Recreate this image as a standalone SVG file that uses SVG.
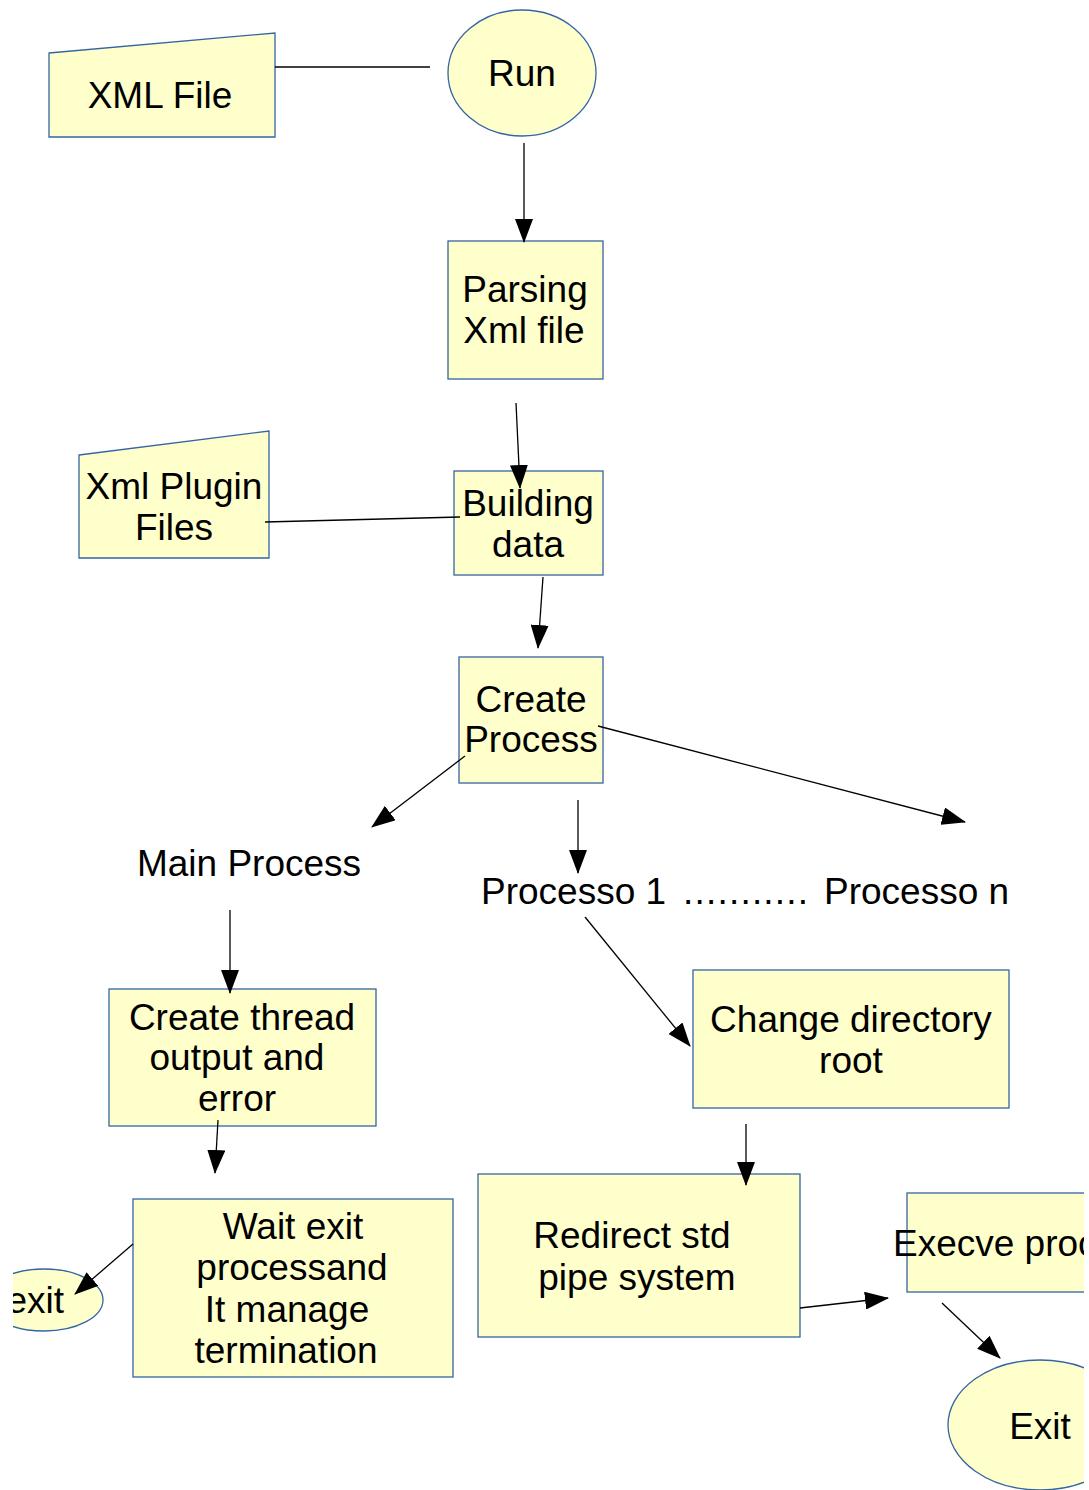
<svg xmlns="http://www.w3.org/2000/svg" width="1089" height="1490" viewBox="0 0 1089 1490">
<style>
.n{fill:#ffffcc;stroke:#3465a4;stroke-width:1.3}
.t{font-family:"Liberation Sans",Arial,sans-serif;font-size:37px;fill:#000;text-anchor:middle}
.c line{stroke:#000;stroke-width:1.3}
</style>
<defs>
<marker id="ah" markerUnits="userSpaceOnUse" markerWidth="24" markerHeight="18" viewBox="0 0 24 18" refX="23" refY="9" orient="auto">
<path d="M0,0 L24,9 L0,18 Z" fill="#000"/>
</marker>
<clipPath id="cl"><rect x="13" y="0" width="1071" height="1490"/></clipPath>
</defs>
<rect width="1089" height="1490" fill="#fff"/>
<g clip-path="url(#cl)">
<g id="xmlfile"><polygon class="n" points="49,53 275,33 275,137 49,137"/><text class="t" x="160" y="108">XML File</text></g>
<g id="run"><ellipse class="n" cx="522" cy="73" rx="74" ry="63"/><text class="t" x="522" y="86">Run</text></g>
<g id="parsing"><rect class="n" x="448" y="241" width="155" height="138"/><text class="t" x="525" y="302">Parsing</text><text class="t" x="524" y="343">Xml file</text></g>
<g id="plugin"><polygon class="n" points="79,455 269,431 269,558 79,558"/><text class="t" x="174" y="499">Xml Plugin</text><text class="t" x="174" y="540">Files</text></g>
<g id="building"><rect class="n" x="454" y="471" width="149" height="104"/><text class="t" x="528" y="516">Building</text><text class="t" x="528" y="557">data</text></g>
<g id="create"><rect class="n" x="459" y="657" width="144" height="126"/><text class="t" x="531" y="712">Create</text><text class="t" x="531" y="752">Process</text></g>
<g id="main"><text class="t" x="249" y="876">Main Process</text></g>
<g id="processi"><text class="t" y="904" style="text-anchor:start"><tspan x="481">Processo 1 </tspan><tspan x="683" letter-spacing="1.2">...........</tspan><tspan x="824">Processo n</tspan></text></g>
<g id="thread"><rect class="n" x="109" y="989" width="267" height="137"/><text class="t" x="242" y="1030">Create thread</text><text class="t" x="237" y="1070">output and</text><text class="t" x="237" y="1111">error</text></g>
<g id="wait"><rect class="n" x="133" y="1199" width="320" height="178"/><text class="t" x="293" y="1239">Wait exit</text><text class="t" x="292" y="1280">processand</text><text class="t" x="287" y="1322">It manage</text><text class="t" x="286" y="1363">termination</text></g>
<g id="exit1"><ellipse class="n" cx="44" cy="1300" rx="59" ry="31"/><text class="t" x="64" y="1313" style="text-anchor:end">exit</text></g>
<g id="chdir"><rect class="n" x="693" y="970" width="316" height="138"/><text class="t" x="851" y="1032">Change directory</text><text class="t" x="851" y="1073">root</text></g>
<g id="redirect"><rect class="n" x="478" y="1174" width="322" height="163"/><text class="t" x="632" y="1248">Redirect std</text><text class="t" x="637" y="1290">pipe system</text></g>
<g id="execve"><rect class="n" x="907" y="1193" width="200" height="99"/><text class="t" x="893" y="1256" style="text-anchor:start">Execve proc</text></g>
<g id="exit2"><ellipse class="n" cx="1040" cy="1425" rx="92" ry="65"/><text class="t" x="1040" y="1439">Exit</text></g>
<g id="connectors" class="c">
<line x1="275" y1="67" x2="430" y2="67"/>
<line x1="524" y1="143" x2="524" y2="242" marker-end="url(#ah)"/>
<line x1="516" y1="403" x2="520" y2="488" marker-end="url(#ah)"/>
<line x1="265" y1="522" x2="460" y2="517"/>
<line x1="543" y1="577" x2="538" y2="648" marker-end="url(#ah)"/>
<line x1="465" y1="756" x2="372" y2="827" marker-end="url(#ah)"/>
<line x1="578" y1="800" x2="578" y2="873" marker-end="url(#ah)"/>
<line x1="598" y1="726" x2="965" y2="822" marker-end="url(#ah)"/>
<line x1="230" y1="910" x2="230" y2="993" marker-end="url(#ah)"/>
<line x1="218" y1="1120" x2="215" y2="1173" marker-end="url(#ah)"/>
<line x1="133" y1="1244" x2="75" y2="1294" marker-end="url(#ah)"/>
<line x1="585" y1="917" x2="690" y2="1046" marker-end="url(#ah)"/>
<line x1="746" y1="1124" x2="746" y2="1185" marker-end="url(#ah)"/>
<line x1="800" y1="1308" x2="888" y2="1298" marker-end="url(#ah)"/>
<line x1="942" y1="1303" x2="1000" y2="1358" marker-end="url(#ah)"/>
</g>
</g>
</svg>
